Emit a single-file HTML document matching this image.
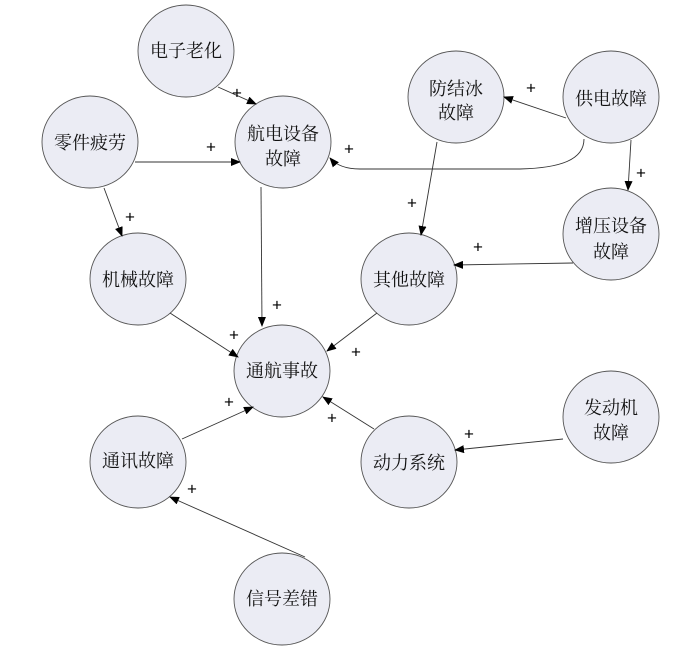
<!DOCTYPE html>
<html><head><meta charset="utf-8"><style>body{margin:0;background:#fff}svg{display:block}</style></head><body>
<svg width="700" height="651" viewBox="0 0 700 651" xmlns="http://www.w3.org/2000/svg">
<defs><marker id="a" markerWidth="10" markerHeight="8" refX="9" refY="4" orient="auto" markerUnits="userSpaceOnUse"><path d="M0,0 L10,4 L0,8 Z" fill="#000"/></marker></defs>
<g fill="#ebecf4" stroke="#555" stroke-width="0.9">
<ellipse cx="186" cy="51" rx="48" ry="46"/>
<ellipse cx="90" cy="142" rx="48" ry="46"/>
<ellipse cx="283" cy="142" rx="48" ry="46"/>
<ellipse cx="456" cy="97" rx="48" ry="46"/>
<ellipse cx="611" cy="97" rx="48" ry="46"/>
<ellipse cx="611" cy="234" rx="48" ry="46"/>
<ellipse cx="138" cy="279" rx="48" ry="46"/>
<ellipse cx="409" cy="279" rx="48" ry="46"/>
<ellipse cx="282" cy="371" rx="48" ry="46"/>
<ellipse cx="611" cy="417" rx="48" ry="46"/>
<ellipse cx="138" cy="462" rx="48" ry="46"/>
<ellipse cx="409" cy="462" rx="48" ry="46"/>
<ellipse cx="282" cy="599" rx="48" ry="46"/>
</g>
<g stroke="#333" stroke-width="0.9" fill="none" marker-end="url(#a)">
<line x1="218" y1="87" x2="256" y2="104"/>
<line x1="135" y1="162" x2="240" y2="162"/>
<line x1="104" y1="188" x2="122" y2="236"/>
<line x1="566" y1="118" x2="504" y2="97"/>
<path d="M584,139 C584,160 560,168 520,169 L360,169 C345,169 336,165 330,158"/>
<line x1="631" y1="140" x2="628" y2="190"/>
<line x1="437" y1="142" x2="421" y2="235"/>
<line x1="573" y1="263" x2="454" y2="265"/>
<line x1="261" y1="187" x2="262" y2="326"/>
<line x1="170" y1="313" x2="238" y2="357"/>
<line x1="377" y1="313" x2="327" y2="351"/>
<line x1="182" y1="439" x2="253" y2="407"/>
<line x1="374" y1="429" x2="323" y2="397"/>
<line x1="563" y1="439" x2="455" y2="450"/>
<line x1="305" y1="557" x2="170" y2="497"/>
</g>
<g font-family="'Liberation Sans',sans-serif" font-size="17" text-anchor="middle" dominant-baseline="central" fill="#000">
<text x="237" y="93">+</text><text x="211" y="147">+</text><text x="130" y="217">+</text>
<text x="531" y="88">+</text><text x="349" y="149">+</text><text x="641" y="173">+</text>
<text x="412" y="203">+</text><text x="478" y="247">+</text><text x="277" y="305">+</text>
<text x="234" y="335">+</text><text x="356" y="352">+</text><text x="229" y="402">+</text>
<text x="332" y="418">+</text><text x="469" y="434">+</text><text x="192" y="489">+</text>
</g>
<g font-family="'Noto Serif CJK SC','Liberation Serif',serif" font-size="18" text-anchor="middle" dominant-baseline="central" fill="#111">
<text x="186" y="50">电子老化</text>
<text x="90" y="142">零件疲劳</text>
<text x="283" y="133">航电设备</text><text x="283" y="158">故障</text>
<text x="456" y="88">防结冰</text><text x="456" y="112">故障</text>
<text x="611" y="98">供电故障</text>
<text x="611" y="225">增压设备</text><text x="611" y="251">故障</text>
<text x="138" y="279">机械故障</text>
<text x="409" y="279">其他故障</text>
<text x="282" y="370">通航事故</text>
<text x="611" y="407">发动机</text><text x="611" y="432">故障</text>
<text x="138" y="460">通讯故障</text>
<text x="409" y="462">动力系统</text>
<text x="282" y="598">信号差错</text>
</g>
</svg>
</body></html>
